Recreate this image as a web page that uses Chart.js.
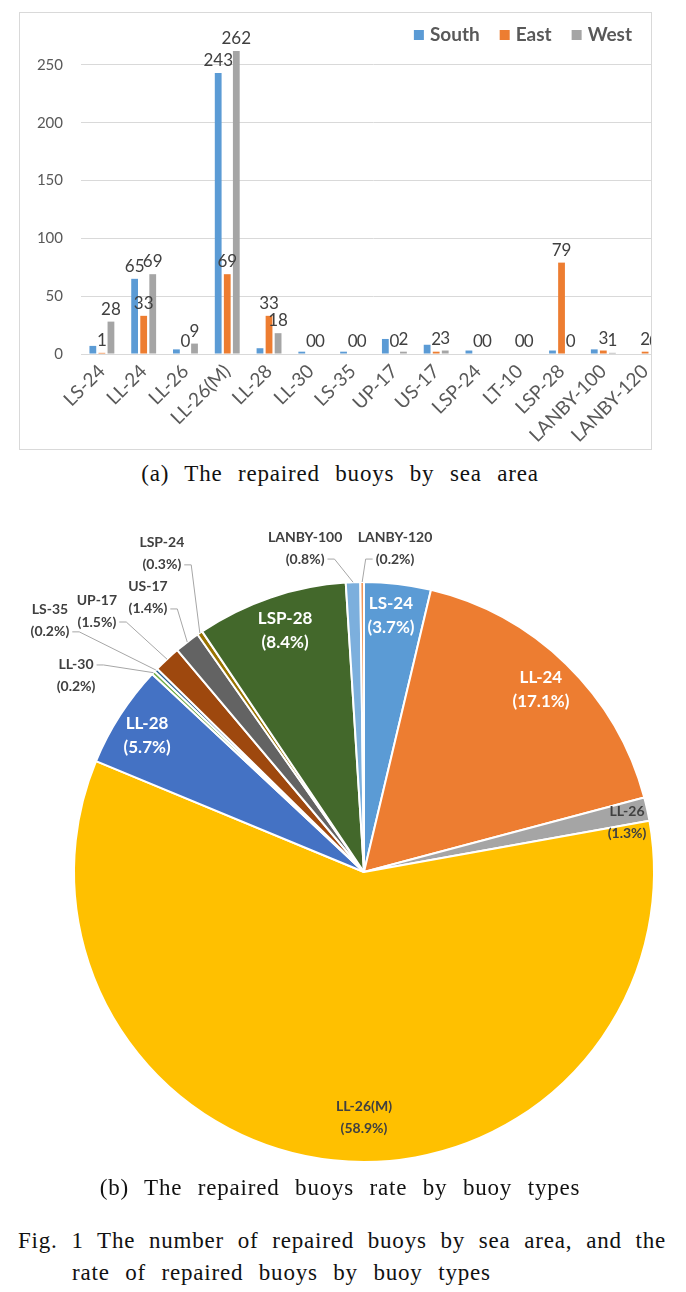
<!DOCTYPE html>
<html>
<head>
<meta charset="utf-8">
<script src="https://cdn.jsdelivr.net/npm/chart.js@4.4.0/dist/chart.umd.min.js"></script>
<style>
  body { margin: 0; background: #fff; width: 686px; height: 1292px; position: relative; overflow: hidden; }
  #barFrame { position: absolute; left: 19px; top: 12px; width: 633px; height: 438px;
              border: 1px solid #d9d9d9; box-sizing: border-box; overflow: hidden; }
  #barChart { position: absolute; left: -20px; top: -33px; }
  #pieChart { position: absolute; left: 0; top: 500px; }
  .cap { position: absolute; color: #111; font-family: 'Liberation Serif', serif; font-size: 23px;
         line-height: 28px; letter-spacing: 0.8px; word-spacing: 9px; white-space: nowrap; }
  .center { left: 0; width: 680px; text-align: center; }
  #fig1 { left: 18px; width: 648px; word-spacing: 3px; text-align: justify; text-align-last: justify; }
  #fig2 { left: 72px; }
</style>
</head>
<body>
<div id="barFrame"><canvas id="barChart" width="700" height="480"></canvas></div>
<div class="cap center" style="top:460px">(a) The repaired buoys by sea area</div>
<canvas id="pieChart" width="686" height="680"></canvas>
<div class="cap center" style="top:1174px">(b) The repaired buoys rate by buoy types</div>
<div class="cap" id="fig1" style="top:1227px">Fig. 1 The number of repaired buoys by sea area, and the</div>
<div class="cap" id="fig2" style="top:1259px">rate of repaired buoys by buoy types</div>

<script>
// buoy types
const categories = ['LS-24', 'LL-24', 'LL-26', 'LL-26(M)', 'LL-28', 'LL-30', 'LS-35',
                    'UP-17', 'US-17', 'LSP-24', 'LT-10', 'LSP-28', 'LANBY-100', 'LANBY-120'];
// repaired buoys by sea area
const south = [7, 65, 4, 243, 5, 2, 2, 13, 8, 3, 0, 3, 4, 0];
const east  = [1, 33, 0, 69, 33, 0, 0, 0, 2, 0, 0, 79, 3, 2];
const west  = [28, 69, 9, 262, 18, 0, 0, 2, 3, 0, 0, 0, 1, 0];
const yTicks = [0, 50, 100, 150, 200, 250, 300];
// share of repaired buoys by type (%)
const pieShares = [3.7, 17.1, 1.3, 58.9, 5.7, 0.2, 0.2, 1.5, 1.4, 0.3, 0, 8.4, 0.8, 0.2];

const pieColors = ['#5b9bd5', '#ed7d31', '#a5a5a5', '#ffc000', '#4472c4', '#70ad47', '#255e91',
                   '#9e480e', '#636363', '#997300', '#264478', '#43682b', '#7cafdd', '#f1975a'];

// where each pie label sits, relative to the centre in radius units
const pieLabelPlace = [
    [0.093, -0.886, 'in'],
    [0.61, -0.628, 'in'],
    [0.907, -0.172, 'dark'],
    [0, 0.848, 'dark'],
    [-0.748, -0.469, 'in'],
    [-0.993, -0.676, 'out'],
    [-1.083, -0.866, 'out'],
    [-0.921, -0.9, 'out'],
    [-0.745, -0.945, 'out'],
    [-0.697, -1.097, 'out'],
    null,
    [-0.272, -0.834, 'in'],
    [-0.203, -1.117, 'out'],
    [0.107, -1.117, 'out']
];

const tickColor = '#595959';

const barLabels = {
    id: 'barLabels',
    afterDatasetsDraw(chart) {
        const ctx = chart.ctx;
        ctx.save();
        ctx.font = '17px Lato';
        ctx.fillStyle = '#404040';
        ctx.textAlign = 'center';
        ctx.textBaseline = 'bottom';
        chart.data.datasets.forEach((ds, i) => {
            chart.getDatasetMeta(i).data.forEach((bar, j) => {
                const v = ds.data[j];
                if (i === 0 && v < 50) return; // small South labels are not shown
                ctx.fillText(String(v), bar.x, bar.y - 4);
            });
        });
        ctx.restore();
    },
    afterDraw(chart) {
        // legend, top right inside the plot
        const ctx = chart.ctx;
        ctx.save();
        ctx.font = 'bold 19px Lato';
        ctx.textBaseline = 'middle';
        ctx.textAlign = 'left';
        let x = 632;
        const y = 55;
        chart.data.datasets.slice().reverse().forEach(ds => {
            const w = ctx.measureText(ds.label).width;
            x -= w;
            ctx.fillStyle = tickColor;
            ctx.fillText(ds.label, x, y);
            x -= 16;
            ctx.fillStyle = ds.backgroundColor;
            ctx.fillRect(x, y - 5, 10, 10);
            x -= 20;
        });
        ctx.restore();
    }
};

new Chart(document.getElementById('barChart'), {
    type: 'bar',
    data: {
        labels: categories,
        datasets: [
            { label: 'South', data: south, backgroundColor: '#5b9bd5' },
            { label: 'East', data: east, backgroundColor: '#ed7d31' },
            { label: 'West', data: west, backgroundColor: '#a5a5a5' }
        ]
    },
    options: {
        responsive: false,
        animation: false,
        categoryPercentage: 0.65,
        barPercentage: 0.75,
        layout: { padding: { top: 23.6, right: 34, left: 0, bottom: 0 } },
        plugins: { legend: { display: false }, tooltip: { enabled: false } },
        scales: {
            x: {
                grid: { display: false, drawTicks: false },
                border: { display: true, color: '#d9d9d9' },
                ticks: { color: tickColor, font: { family: 'Lato', size: 19 }, autoSkip: false,
                         maxRotation: 45, minRotation: 45, padding: 6 },
                afterFit(scale) { scale.height = 106; }
            },
            y: {
                min: 0, max: 300,
                afterBuildTicks(scale) { scale.ticks = yTicks.map(v => ({ value: v })); },
                grid: { color: '#d9d9d9', drawTicks: false },
                border: { display: false },
                ticks: { color: tickColor, font: { family: 'Lato', size: 15 }, padding: 18 },
                afterFit(scale) { scale.width = 81; }
            }
        }
    },
    plugins: [barLabels]
});

const pieLabels = {
    id: 'pieLabels',
    afterDatasetsDraw(chart) {
        const ctx = chart.ctx;
        const meta = chart.getDatasetMeta(0);
        ctx.save();
        ctx.textAlign = 'center';
        ctx.textBaseline = 'middle';
        meta.data.forEach((arc, i) => {
            const place = pieLabelPlace[i];
            if (!place) return;
            const [dx, dy, kind] = place;
            const R = arc.outerRadius;
            const cx = arc.x + dx * R;
            const cy = arc.y + dy * R;
            const size = kind === 'in' ? 17 : 14;
            const gap = kind === 'in' ? 12 : 11;
            ctx.font = 'bold ' + size + 'px Lato';
            ctx.fillStyle = kind === 'in' ? '#ffffff' : '#404040';
            const name = categories[i];
            const pct = '(' + pieShares[i].toFixed(1) + '%)';
            ctx.fillText(name, cx, cy - gap);
            ctx.fillText(pct, cx, cy + gap);
            if (kind === 'out') {
                const a = (arc.startAngle + arc.endAngle) / 2;
                const ex = arc.x + Math.cos(a) * R;
                const ey = arc.y + Math.sin(a) * R;
                const top = Math.abs(ey - (cy - gap)) < Math.abs(ey - (cy + gap));
                const ly = top ? cy - gap : cy + gap;
                const w = ctx.measureText(top ? name : pct).width;
                const dir = ex < cx ? -1 : 1;
                const sx = cx + dir * (w / 2 + 3);
                ctx.strokeStyle = '#a6a6a6';
                ctx.lineWidth = 1;
                ctx.beginPath();
                ctx.moveTo(sx, ly);
                ctx.lineTo(sx + dir * 7, ly);
                ctx.lineTo(ex, ey);
                ctx.stroke();
            }
        });
        ctx.restore();
    }
};

new Chart(document.getElementById('pieChart'), {
    type: 'pie',
    data: {
        labels: categories,
        datasets: [{ data: pieShares, backgroundColor: pieColors, borderColor: '#ffffff', borderWidth: 2 }]
    },
    options: {
        responsive: false,
        animation: false,
        radius: 290,
        layout: { padding: { left: 42, top: 64, right: 0, bottom: 0 } },
        plugins: { legend: { display: false }, tooltip: { enabled: false } }
    },
    plugins: [pieLabels]
});
</script>
</body>
</html>
